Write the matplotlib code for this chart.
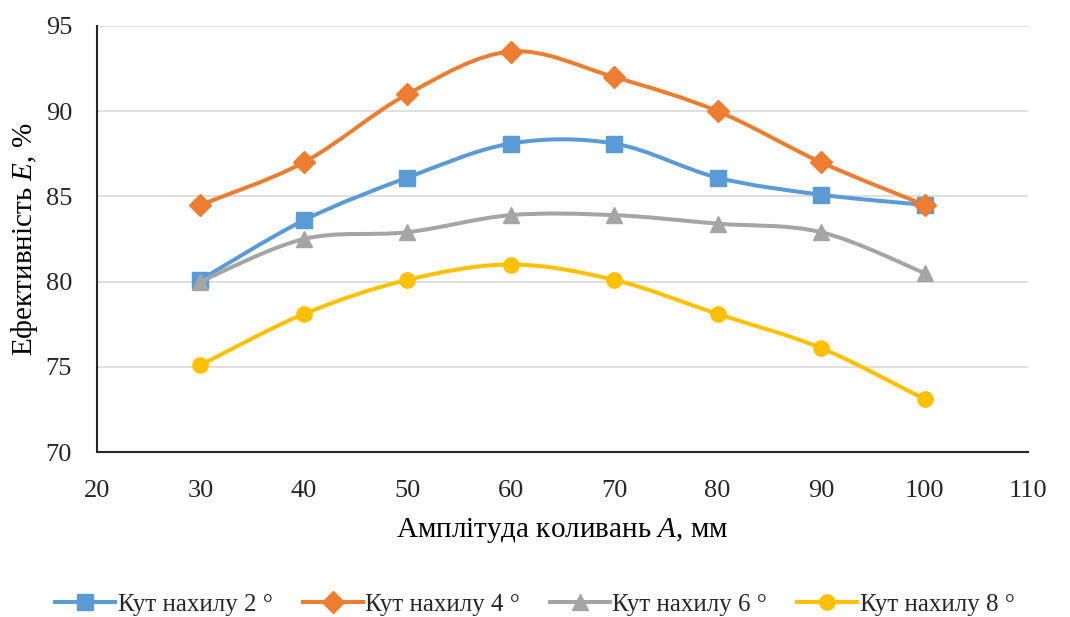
#!/usr/bin/env python3

import matplotlib
matplotlib.use("Agg")
import matplotlib.pyplot as plt
import numpy as np
from matplotlib.lines import Line2D
from matplotlib.path import Path
from matplotlib.patches import PathPatch

amplitude = [30, 40, 50, 60, 70, 80, 90, 100]
angle_2 = [80.1, 83.6, 86.1, 88.1, 88.1, 86.1, 85.1, 84.5]
angle_4 = [84.5, 87.0, 91.0, 93.5, 92.0, 90.0, 87.0, 84.5]
angle_6 = [80.0, 82.5, 82.9, 83.9, 83.9, 83.4, 82.9, 80.5]
angle_8 = [75.1, 78.1, 80.1, 81.0, 80.1, 78.1, 76.1, 73.1]
labels = ["Кут нахилу 2 °", "Кут нахилу 4 °", "Кут нахилу 6 °", "Кут нахилу 8 °"]
x_ticks = [20, 30, 40, 50, 60, 70, 80, 90, 100, 110]
y_ticks = [70, 75, 80, 85, 90, 95]

colors = ["#5B9BD5", "#ED7D31", "#A5A5A5", "#FFC000"]
markers = ["s", "D", "^", "o"]
msizes = [11, 11, 11, 11]


def smooth_path(x, y):
    # Excel-like smoothed line: cubic Bezier through every point
    p = np.column_stack([x, y]).astype(float)
    ext = np.vstack([p[0], p, p[-1]])
    verts = [p[0]]
    codes = [Path.MOVETO]
    for i in range(len(p) - 1):
        p0, p1, p2, p3 = ext[i], ext[i + 1], ext[i + 2], ext[i + 3]
        c1 = p1 + (p2 - p0) / 6.0
        c2 = p2 - (p3 - p1) / 6.0
        verts += [c1, c2, p2]
        codes += [Path.CURVE4] * 3
    return Path(verts, codes)


plt.rcParams.update(
    {
        "font.family": "Liberation Serif",
        "mathtext.fontset": "custom",
        "mathtext.rm": "Liberation Serif",
        "mathtext.it": "Liberation Serif:italic",
        "text.color": "#262626",
    }
)

fig = plt.figure(figsize=(10.7, 6.17), dpi=100, facecolor="white")
ax = fig.add_axes([0.0907, 0.2674, 0.8700, 0.6905])

series = [angle_2, angle_4, angle_6, angle_8]
handles = []
for i, vals in enumerate(series):
    patch = PathPatch(smooth_path(amplitude, vals), fill=False, edgecolor=colors[i],
                      linewidth=2.9, transform=ax.transData, zorder=3 + i,
                      capstyle="round", joinstyle="round")
    ax.add_patch(patch)
    ax.plot(amplitude, vals, linestyle="none", marker=markers[i], markersize=msizes[i],
            color=colors[i], zorder=3 + i)
    handles.append(Line2D([], [], color=colors[i], linewidth=2.9, marker=markers[i],
                          markersize=msizes[i]))

ax.set_xlim(20, 110)
ax.set_ylim(70, 95)
ax.set_xticks(x_ticks)
ax.set_yticks(y_ticks)
ax.tick_params(axis="both", length=0, labelsize=19, colors="#262626")
ax.tick_params(axis="y", pad=18)
ax.tick_params(axis="x", pad=20)
ax.grid(axis="y", color="#D9D9D9", linewidth=1.2, zorder=0)
ax.set_axisbelow(True)
for side in ["top", "right"]:
    ax.spines[side].set_visible(False)
for side in ["left", "bottom"]:
    ax.spines[side].set_color("#262626")
    ax.spines[side].set_linewidth(1.5)

ax.set_xlabel("Амплітуда коливань $A$, мм", fontsize=21, labelpad=10)
ax.set_ylabel("Ефективність $E$, %", fontsize=21, labelpad=4)

fig.legend(handles, labels, loc="lower center", bbox_to_anchor=(0.5, -0.035), ncol=4,
           frameon=False, fontsize=18, handlelength=2.4, handletextpad=0.1,
           columnspacing=1.2)

fig.savefig("out.png", dpi=100)
plt.close(fig)
